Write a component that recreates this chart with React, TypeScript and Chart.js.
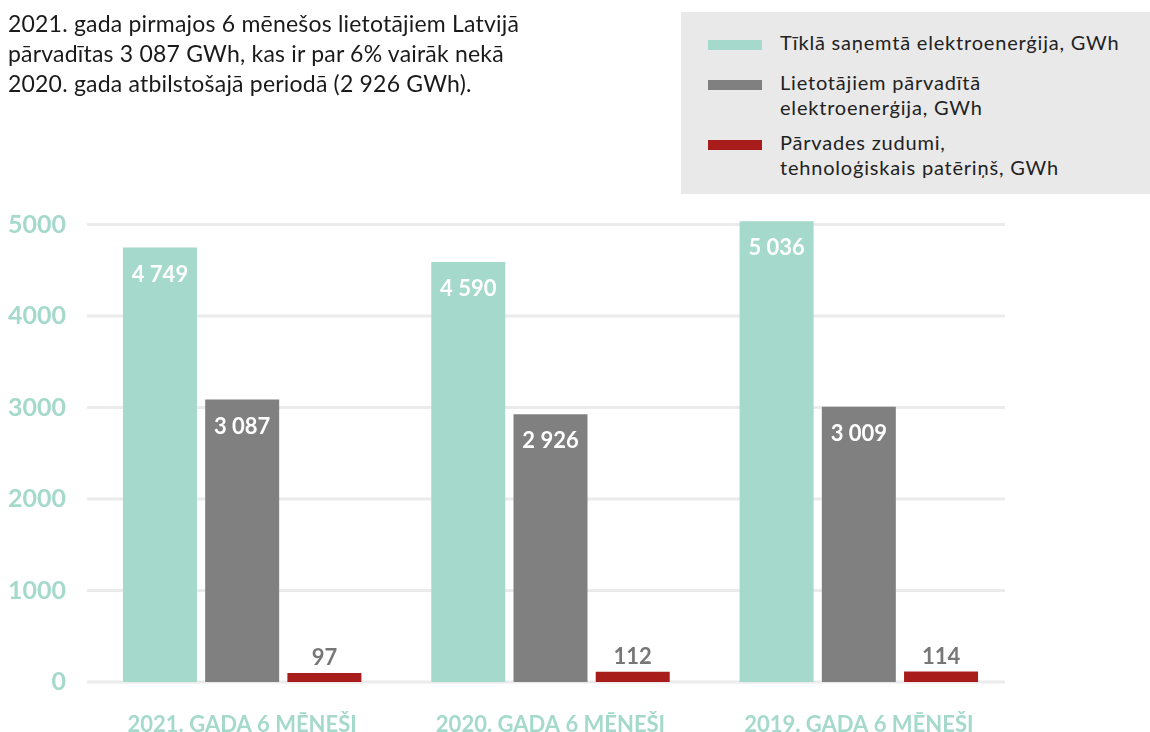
import React, { useEffect, useRef } from "react";
import { Chart, registerables } from "chart.js";

Chart.register(...registerables);

const categories = ["2021. GADA 6 MĒNEŠI", "2020. GADA 6 MĒNEŠI", "2019. GADA 6 MĒNEŠI"];
const received = [4749, 4590, 5036];
const delivered = [3087, 2926, 3009];
const losses = [97, 112, 114];
const seriesNames = [
  ["Tīklā saņemtā elektroenerģija, GWh"],
  ["Lietotājiem pārvadītā", "elektroenerģija, GWh"],
  ["Pārvades zudumi,", "tehnoloģiskais patēriņš, GWh"],
];
const titleLines = [
  "2021. gada pirmajos 6 mēnešos lietotājiem Latvijā",
  "pārvadītas 3 087 GWh, kas ir par 6% vairāk nekā",
  "2020. gada atbilstošajā periodā (2 926 GWh).",
];

const TEAL = "#a5d9cc";
const GRAY = "#808080";
const RED = "#a81c1c";
const FONT = "Lato, 'Noto Sans', sans-serif";

const fmt = (v: number) => String(v).replace(/\B(?=(\d{3})+(?!\d))/g, " ");

const gridPlugin = {
  id: "customGrid",
  beforeDatasetsDraw(chart: any) {
    const { ctx, chartArea, scales } = chart;
    const y = scales.y;
    ctx.save();
    ctx.strokeStyle = "#ebebeb";
    ctx.lineWidth = 3;
    y.ticks.forEach((t: any) => {
      const py = y.getPixelForValue(t.value);
      ctx.beginPath();
      ctx.moveTo(chartArea.left - 1, py);
      ctx.lineTo(chartArea.right - 8, py);
      ctx.stroke();
    });
    ctx.restore();
  },
};

const labelPlugin = {
  id: "valueLabels",
  afterDatasetsDraw(chart: any) {
    const { ctx } = chart;
    ctx.save();
    ctx.font = `bold 22px ${FONT}`;
    ctx.textAlign = "center";
    ctx.textBaseline = "middle";
    chart.data.datasets.forEach((ds: any, di: number) => {
      const meta = chart.getDatasetMeta(di);
      meta.data.forEach((bar: any, i: number) => {
        const v = ds.data[i];
        if (di < 2) {
          ctx.fillStyle = "#ffffff";
          ctx.fillText(fmt(v), bar.x, bar.y + 27);
        } else {
          ctx.fillStyle = "#777777";
          ctx.fillText(fmt(v), bar.x, bar.y - 15);
        }
      });
    });
    ctx.restore();
  },
};

export default function App() {
  const ref = useRef<HTMLCanvasElement | null>(null);
  useEffect(() => {
    if (!ref.current) return;
    const chart = new Chart(ref.current, {
      type: "bar",
      data: {
        labels: categories,
        datasets: [
          { label: seriesNames[0].join(" "), data: received, backgroundColor: TEAL, clip: false as any },
          { label: seriesNames[1].join(" "), data: delivered, backgroundColor: GRAY, clip: false as any },
          { label: seriesNames[2].join(" "), data: losses, backgroundColor: RED, clip: false as any },
        ],
      },
      options: {
        animation: false,
        responsive: false,
        layout: { padding: { top: 224.5, right: 137, left: 0, bottom: 0 } },
        plugins: { legend: { display: false }, tooltip: { enabled: false } },
        scales: {
          x: {
            grid: { display: false, drawTicks: false },
            border: { display: false },
            ticks: { color: TEAL, font: { family: FONT, size: 22, weight: "bold" }, padding: 30, maxRotation: 0 },
            afterFit: (s: any) => { s.height = 78; },
          },
          y: {
            min: 0,
            max: 5000,
            grid: { display: false, drawTicks: false },
            border: { display: false },
            ticks: {
              stepSize: 1000,
              color: TEAL,
              padding: 22,
              font: { family: FONT, size: 25, weight: "bold" },
              callback: (v: any) => String(v),
            },
            afterFit: (s: any) => { s.width = 88; },
          },
        },
      },
      plugins: [gridPlugin, labelPlugin],
    });
    return () => chart.destroy();
  }, []);

  const legendColors = [TEAL, GRAY, RED];
  const legendTops = [49, 89, 149];

  return (
    <div style={{ position: "absolute", left: 0, top: 0, width: 1150, height: 732, overflow: "hidden", background: "#fff" }}>
      <canvas ref={ref} width={1150} height={760} style={{ position: "absolute", left: 0, top: 0, width: 1150, height: 760 }} />
      <div style={{ position: "absolute", left: 8, top: 8, fontFamily: FONT, fontSize: 23, letterSpacing: "0.2px", lineHeight: "30px", color: "#1a1a1a", whiteSpace: "nowrap" }}>
        {titleLines.map((l, i) => <div key={i}>{l}</div>)}
      </div>
      <div style={{ position: "absolute", left: 681, top: 12, width: 469, height: 182, background: "#e9e9e9" }} />
      {seriesNames.map((lines, i) => (
        <React.Fragment key={i}>
          <div style={{ position: "absolute", left: 708, top: legendTops[i] - 9, width: 54, height: 10, background: legendColors[i] }} />
          <div style={{ position: "absolute", left: 780, top: legendTops[i] - 19, fontFamily: FONT, fontSize: 20, letterSpacing: "0.8px", lineHeight: "25px", color: "#222", whiteSpace: "nowrap" }}>
            {lines.map((l, j) => <div key={j}>{l}</div>)}
          </div>
        </React.Fragment>
      ))}
    </div>
  );
}
